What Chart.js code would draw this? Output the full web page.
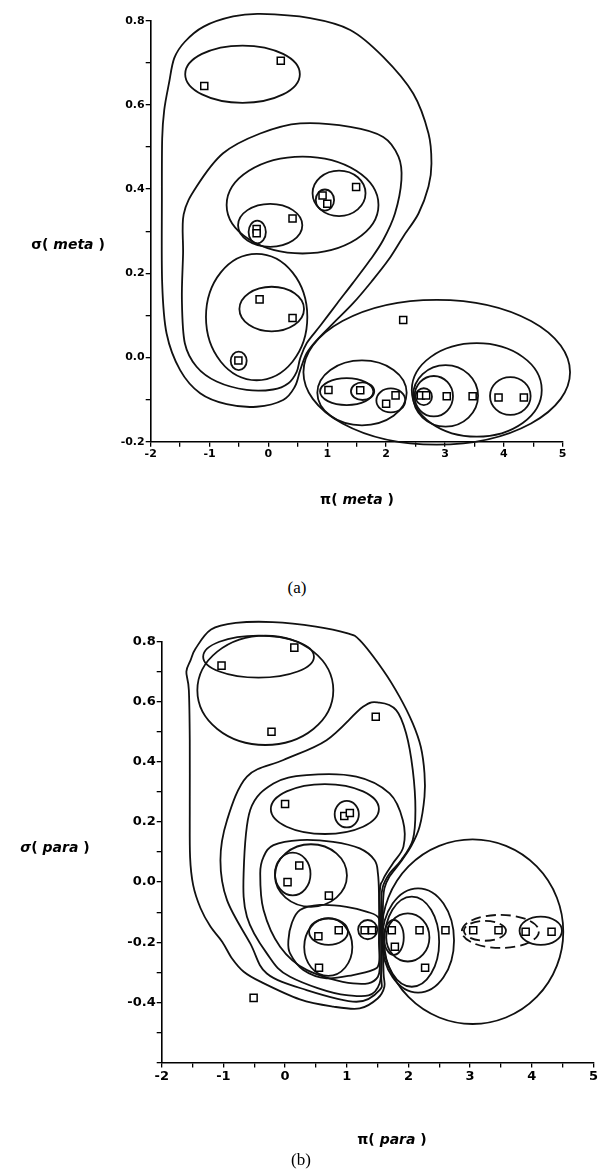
<!DOCTYPE html>
<html>
<head>
<meta charset="utf-8">
<script src="https://cdn.jsdelivr.net/npm/chart.js@4.4.0/dist/chart.umd.min.js"></script>
<style>
  html, body { margin: 0; padding: 0; background: #fff; }
  body { width: 600px; height: 1173px; position: relative; overflow: hidden; }
  .panel { position: absolute; left: 0; width: 600px; }
  .caption { position: absolute; width: 60px; text-align: center; font-family: "Liberation Serif", serif; font-size: 17px; color: #000; }
</style>
</head>
<body>
<div class="panel" style="top:0;height:560px"><canvas id="metaChart" width="600" height="560"></canvas></div>
<div class="caption" style="left:267px;top:578px">(a)</div>
<div class="panel" style="top:600px;height:573px"><canvas id="paraChart" width="600" height="573"></canvas></div>
<div class="caption" style="left:271px;top:1150px">(b)</div>
<script>
// ---- (a) meta substituents: pi vs sigma ----
const metaPi    = [-1.09, 0.21, 0.92, 1.0, 1.49, 0.41, -0.2, -0.2, -0.15, 0.41, -0.51, 2.29, 1.02, 1.56, 2.16, 2.0, 2.59, 2.68, 3.03, 3.47, 3.91, 4.34]
const metaSigma = [0.645, 0.705, 0.385, 0.365, 0.405, 0.33, 0.305, 0.295, 0.138, 0.094, -0.007, 0.089, -0.077, -0.078, -0.09, -0.11, -0.09, -0.09, -0.092, -0.092, -0.095, -0.095]

// cluster ellipses [centre pi, centre sigma, half-width, half-height] in data units
const metaEllipses = [
  [-0.44, 0.673, 0.974, 0.068],
  [0.58, 0.362, 1.29, 0.115],
  [0.03, 0.314, 0.546, 0.051],
  [-0.19, 0.298, 0.147, 0.027],
  [1.2, 0.39, 0.45, 0.054],
  [0.96, 0.374, 0.156, 0.025],
  [-0.2, 0.096, 0.861, 0.15],
  [0.056, 0.115, 0.549, 0.053],
  [-0.505, -0.008, 0.136, 0.022],
  [2.86, -0.035, 2.265, 0.172],
  [1.59, -0.084, 0.759, 0.077],
  [1.33, -0.081, 0.453, 0.032],
  [1.6, -0.08, 0.198, 0.021],
  [2.08, -0.102, 0.246, 0.0285],
  [3.54, -0.077, 1.104, 0.111],
  [3.01, -0.091, 0.552, 0.073],
  [2.81, -0.092, 0.326, 0.048],
  [2.64, -0.093, 0.139, 0.02],
  [4.11, -0.0915, 0.345, 0.045]
]

// free-hand cluster outlines, vertices in data units
const metaOuter = [[-0.6, 0.81], [-0.14, 0.816], [0.71, 0.806], [1.39, 0.778], [1.95, 0.714], [2.46, 0.627], [2.72, 0.532], [2.77, 0.46], [2.72, 0.406], [2.55, 0.342], [2.29, 0.287], [2.04, 0.232], [1.75, 0.18], [1.44, 0.129], [1.1, 0.081], [0.82, 0.041], [0.65, 0.01], [0.54, -0.03], [0.45, -0.069], [0.25, -0.101], [-0.2, -0.117], [-0.71, -0.111], [-1.16, -0.085], [-1.5, -0.03], [-1.73, 0.057], [-1.805, 0.176], [-1.81, 0.374], [-1.805, 0.52], [-1.77, 0.588], [-1.69, 0.651], [-1.6, 0.711], [-1.42, 0.75], [-1.1, 0.786]]
const metaMiddle = [[-0.14, 0.532], [0.54, 0.556], [1.39, 0.548], [1.95, 0.524], [2.21, 0.477], [2.26, 0.422], [2.15, 0.342], [1.95, 0.279], [1.73, 0.232], [1.43, 0.176], [1.17, 0.129], [0.89, 0.077], [0.65, 0.034], [0.54, -0.002], [0.48, -0.034], [0.34, -0.061], [0.08, -0.076], [-0.37, -0.077], [-0.88, -0.057], [-1.22, -0.022], [-1.42, 0.034], [-1.47, 0.137], [-1.45, 0.247], [-1.44, 0.34], [-1.22, 0.406], [-0.77, 0.485]]

// ---- (b) para substituents ----
const paraPi    = [-1.03, 0.15, -0.22, 1.47, 0.0, 0.96, 1.05, 0.23, 0.04, 0.71, 0.54, 0.87, 0.55, 1.29, 1.41, 1.73, 1.78, 2.18, 2.27, 2.6, 3.05, 3.46, 3.9, 4.32, -0.51]
const paraSigma = [0.72, 0.78, 0.5, 0.55, 0.26, 0.22, 0.23, 0.055, 0.0, -0.045, -0.18, -0.16, -0.285, -0.16, -0.16, -0.16, -0.215, -0.16, -0.285, -0.16, -0.16, -0.16, -0.165, -0.165, -0.385]

const paraEllipses = [
  [-0.43, 0.75, 0.898, 0.07],
  [-0.32, 0.638, 1.102, 0.182],
  [0.645, 0.243, 0.876, 0.083],
  [1.0, 0.226, 0.196, 0.044],
  [0.42, 0.022, 0.583, 0.104],
  [0.124, 0.027, 0.288, 0.071],
  [0.7, -0.216, 0.39, 0.096],
  [0.704, -0.165, 0.315, 0.044],
  [1.34, -0.158, 0.156, 0.032],
  [3.04, -0.165, 1.47, 0.307],
  [2.156, -0.194, 0.583, 0.1735],
  [2.054, -0.198, 0.444, 0.15],
  [1.99, -0.184, 0.35, 0.08],
  [1.763, -0.184, 0.161, 0.058],
  [3.49, -0.164, 0.624, 0.055],
  [3.24, -0.162, 0.341, 0.033],
  [4.145, -0.162, 0.344, 0.047]
]
const paraDashed = [14, 15]

const paraOuter = [[-1.2, 0.84], [-0.8, 0.862], [-0.2, 0.865], [0.5, 0.85], [1.0, 0.828], [1.21, 0.805], [1.59, 0.705], [1.855, 0.617], [2.07, 0.528], [2.2, 0.45], [2.26, 0.362], [2.26, 0.284], [2.18, 0.184], [2.04, 0.118], [1.855, 0.062], [1.69, 0.018], [1.61, -0.021], [1.586, -0.082], [1.586, -0.193], [1.597, -0.304], [1.61, -0.348], [1.5, -0.387], [1.21, -0.42], [0.78, -0.414], [0.24, -0.39], [-0.4, -0.331], [-0.67, -0.298], [-0.86, -0.254], [-1.02, -0.198], [-1.21, -0.148], [-1.37, -0.087], [-1.49, -0.01], [-1.54, 0.084], [-1.545, 0.251], [-1.545, 0.473], [-1.56, 0.639], [-1.6, 0.7], [-1.53, 0.739], [-1.45, 0.777]]
const paraRing4 = [[-1.048, 0.073], [-0.941, 0.206], [-0.618, 0.351], [-0.027, 0.406], [0.672, 0.472], [1.263, 0.583], [1.532, 0.597], [1.801, 0.572], [1.962, 0.495], [2.07, 0.373], [2.113, 0.24], [2.07, 0.14], [1.882, 0.073], [1.694, 0.029], [1.586, -0.015], [1.559, -0.082], [1.559, -0.304], [1.532, -0.359], [1.156, -0.398], [0.349, -0.359], [-0.296, -0.304], [-0.565, -0.204], [-0.941, -0.06]]
const paraRing3 = [[-0.672, 0.029], [-0.565, 0.24], [-0.188, 0.328], [0.349, 0.356], [1.156, 0.351], [1.694, 0.295], [1.909, 0.206], [1.919, 0.118], [1.747, 0.062], [1.586, 0.007], [1.532, -0.049], [1.532, -0.337], [0.995, -0.376], [0.081, -0.315], [-0.296, -0.237], [-0.618, -0.115]]
const paraRing2 = [[-0.349, 0.084], [-0.188, 0.123], [0.242, 0.14], [0.78, 0.134], [1.21, 0.112], [1.452, 0.073], [1.505, 0.029], [1.522, -0.037], [1.522, -0.193], [1.505, -0.315], [1.102, -0.337], [0.349, -0.292], [-0.081, -0.215], [-0.349, -0.093], [-0.403, 0.029]]
const paraRing1 = [[0.054, -0.193], [0.108, -0.137], [0.242, -0.093], [0.565, -0.076], [0.995, -0.082], [1.317, -0.098], [1.522, -0.121], [1.532, -0.193], [1.522, -0.27], [1.425, -0.292], [1.102, -0.309], [0.672, -0.32], [0.296, -0.292], [0.081, -0.237]]

const TITLE_FONT = '"DejaVu Sans", sans-serif'

// draws a run of differently styled pieces centred on (cx, cy)
function drawParts(ctx, parts, cx, cy) {
  let total = 0
  parts.forEach(([text, font]) => { ctx.font = font; total += ctx.measureText(text).width })
  let x = cx - total / 2
  ctx.textBaseline = 'middle'
  ctx.textAlign = 'left'
  ctx.fillStyle = '#000'
  parts.forEach(([text, font]) => {
    ctx.font = font
    ctx.fillText(text, x, cy)
    x += ctx.measureText(text).width
  })
}

function contourPlugin(shapes) {
  return {
    id: 'contours',
    beforeDatasetsDraw(chart) {
      const { ctx } = chart
      const sx = chart.scales.x, sy = chart.scales.y
      const px = v => sx.getPixelForValue(v)
      const py = v => sy.getPixelForValue(v)
      ctx.save()
      ctx.strokeStyle = '#111'
      ctx.lineWidth = 1.8
      ctx.lineJoin = 'round'

      shapes.ellipses.forEach(([cx, cy, rx, ry], i) => {
        ctx.setLineDash(shapes.dashed.includes(i) ? [10, 5] : [])
        ctx.beginPath()
        ctx.ellipse(px(cx), py(cy), Math.abs(px(cx + rx) - px(cx)), Math.abs(py(cy + ry) - py(cy)), 0, 0, Math.PI * 2)
        ctx.stroke()
      })
      ctx.setLineDash([])

      // closed smooth outline through the vertices (Catmull-Rom)
      shapes.blobs.forEach(pts => {
        const p = pts.map(([a, b]) => [px(a), py(b)])
        const n = p.length
        ctx.beginPath()
        ctx.moveTo(p[0][0], p[0][1])
        for (let i = 0; i < n; i++) {
          const p0 = p[(i - 1 + n) % n], p1 = p[i], p2 = p[(i + 1) % n], p3 = p[(i + 2) % n]
          ctx.bezierCurveTo(
            p1[0] + (p2[0] - p0[0]) / 6, p1[1] + (p2[1] - p0[1]) / 6,
            p2[0] - (p3[0] - p1[0]) / 6, p2[1] - (p3[1] - p1[1]) / 6,
            p2[0], p2[1])
        }
        ctx.closePath()
        ctx.stroke()
      })
      ctx.restore()
    },
    afterDraw(chart) {
      const { ctx } = chart
      ctx.save()
      drawParts(ctx, shapes.yTitle, shapes.yTitlePos[0], shapes.yTitlePos[1])
      drawParts(ctx, shapes.xTitle, shapes.xTitlePos[0], shapes.xTitlePos[1])
      ctx.restore()
    }
  }
}

function buildChart(id, cfg) {
  const points = cfg.pi.map((x, i) => ({ x, y: cfg.sigma[i] }))
  const tickFont = { family: '"DejaVu Sans", sans-serif', size: cfg.tickSize, weight: 'bold' }

  return new Chart(document.getElementById(id), {
    type: 'scatter',
    data: {
      datasets: [
        {
          data: points,
          pointStyle: 'rect',
          pointRadius: 5,
          pointBackgroundColor: '#fff',
          pointBorderColor: '#000',
          pointBorderWidth: 1.5
        },
        {
          data: points,
          pointStyle: 'rect',
          pointRadius: 1.3,
          pointBackgroundColor: '#000',
          pointBorderColor: '#000',
          pointBorderWidth: 0.5
        }
      ]
    },
    options: {
      responsive: false,
      animation: false,
      events: [],
      layout: { padding: cfg.padding },
      plugins: { legend: { display: false }, tooltip: { enabled: false } },
      scales: {
        x: {
          type: 'linear',
          min: -2,
          max: 5,
          afterFit: s => { s.height = 28 },
          ticks: {
            stepSize: 0.5,
            autoSkip: false,
            maxRotation: 0,
            padding: 1,
            color: '#000',
            font: tickFont,
            callback: v => Number.isInteger(v) ? String(v) : ''
          },
          grid: { drawOnChartArea: false, drawTicks: true, tickLength: 5, color: '#000', lineWidth: 1.3 },
          border: { display: true, color: '#000', width: 1.6 }
        },
        y: {
          type: 'linear',
          min: cfg.yMin,
          max: 0.8,
          afterFit: s => { s.width = 40 },
          ticks: {
            stepSize: 0.1,
            autoSkip: false,
            padding: 1,
            color: '#000',
            font: tickFont,
            callback: v => {
              const k = v * 5
              if (Math.abs(k - Math.round(k)) > 1e-6) return ''
              if (cfg.hideLabels.some(h => Math.abs(h - v) < 1e-6)) return ''
              return v.toFixed(1)
            }
          },
          grid: { drawOnChartArea: false, drawTicks: true, tickLength: 5, color: '#000', lineWidth: 1.3 },
          border: { display: true, color: '#000', width: 1.6 }
        }
      }
    },
    plugins: [contourPlugin(cfg.shapes)]
  })
}

const f14 = 'bold 14px ' + TITLE_FONT
const f14i = 'italic bold 14px ' + TITLE_FONT

buildChart('metaChart', {
  pi: metaPi,
  sigma: metaSigma,
  yMin: -0.2,
  hideLabels: [],
  tickSize: 11,
  padding: { left: 110.7, right: 37.3, top: 20.7, bottom: 90.3 },
  shapes: {
    ellipses: metaEllipses,
    dashed: [],
    blobs: [metaOuter, metaMiddle],
    yTitle: [['σ( ', f14], ['meta', f14i], [' )', f14]],
    yTitlePos: [68, 245],
    xTitle: [['π( ', f14], ['meta', f14i], [' )', f14]],
    xTitlePos: [357, 500]
  }
})

buildChart('paraChart', {
  pi: paraPi,
  sigma: paraSigma,
  yMin: -0.6,
  hideLabels: [-0.6],
  tickSize: 13,
  padding: { left: 121.7, right: 5, top: 41.6, bottom: 82.5 },
  shapes: {
    ellipses: paraEllipses,
    dashed: paraDashed,
    blobs: [paraOuter, paraRing4, paraRing3, paraRing2, paraRing1],
    yTitle: [['σ', f14i], ['( ', f14], ['para', f14i], [' )', f14]],
    yTitlePos: [55, 248],
    xTitle: [['π( ', f14], ['para', f14i], [' )', f14]],
    xTitlePos: [392, 540]
  }
})
</script>
</body>
</html>
